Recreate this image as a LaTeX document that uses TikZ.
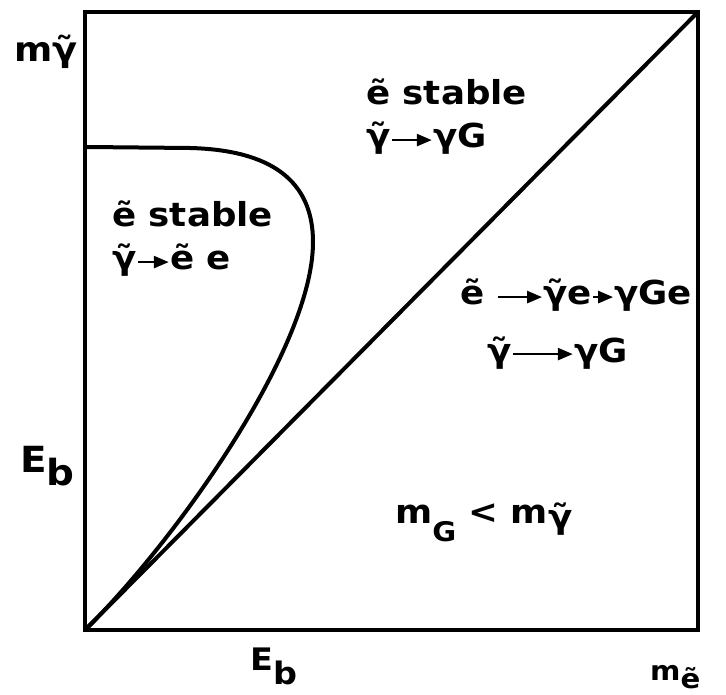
\documentclass[tikz,border=0pt]{standalone}
\usepackage{fontspec}
\setmainfont{DejaVu Sans}[FakeStretch=1.08]
\usetikzlibrary{arrows.meta}
\newcommand\tl[1]{\ooalign{#1\cr\hidewidth ˜\hidewidth\cr}}
\newcommand\arw[1]{\tikz[baseline=-0.24em]\draw[line width=2.6pt,-{Triangle[length=15pt,width=12pt]}] (0pt,0pt) -- (#1pt,0pt);}
\tikzset{
  lbl/.style={inner sep=0pt, anchor=base west, font=\fontsize{33}{33}\selectfont\bfseries},
  frame/.style={line width=4.5pt},
  thick line/.style={line width=4pt, line join=round}
}
\begin{document}
\begin{tikzpicture}[x=1pt,y=-1pt]
\useasboundingbox (0,0) rectangle (726,695);
\draw[frame] (85,12) rectangle (698,630);
\coordinate (O) at (85,630);
\coordinate (TR) at (698,12);
\coordinate (C0) at (87,147);
\coordinate (C1) at (190,148);
\coordinate (C2) at (313,242);
\draw[thick line] (O) -- (TR);
\draw[thick line] (C0) -- (C1) .. controls (270,150) and (313,180) .. (C2)
  .. controls (313,350) and (172,545) .. (O);
\node[lbl, font=\fontsize{34}{34}\selectfont\bfseries] (my) at (14,62) {m\tl{γ}};
\node[lbl] (t1) at (366,105) {ẽ stable};
\node[lbl] (t2) at (366,148) {\tl{γ}\arw{40}γG};
\node[lbl] (l1) at (112,227) {ẽ stable};
\node[lbl] (l2) at (112,270) {\tl{γ}\arw{31}ẽ e};
\node[lbl] (r1) at (460,305) {ẽ \arw{44}\tl{γ}e\arw{20}γGe};
\node[lbl] (r2) at (487,362) {\tl{γ}\arw{60}γG};
\node[lbl] (mg) at (395,523) {m\raisebox{-18pt}{\fontsize{27}{27}\selectfont G} < m\raisebox{-5pt}{\tl{γ}}};
\node[lbl, font=\fontsize{36}{36}\selectfont\bfseries] (ebl) at (20,472) {E\raisebox{-13pt}{b}};
\node[lbl, font=\fontsize{31}{31}\selectfont\bfseries] (ebb) at (250,670) {E\raisebox{-14pt}{b}};
\node[lbl, font=\fontsize{27}{27}\selectfont\bfseries] (me) at (650,680) {m\raisebox{-8pt}{ẽ}};
\end{tikzpicture}
\end{document}
